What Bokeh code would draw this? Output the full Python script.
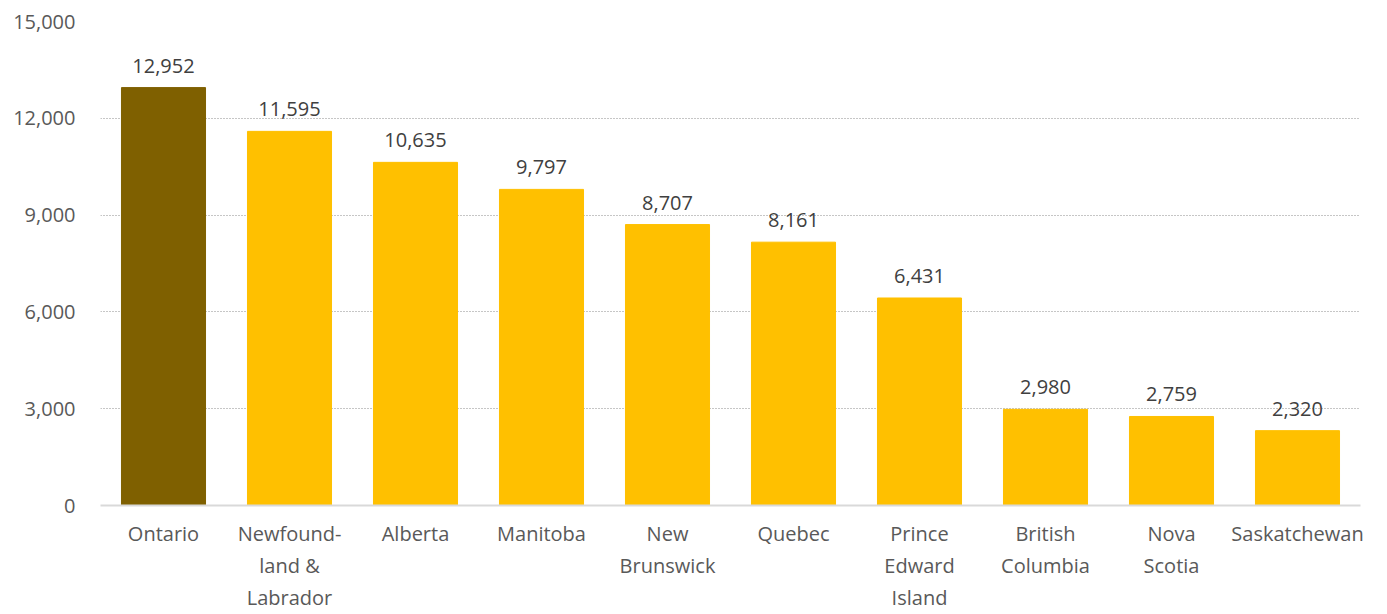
from bokeh.plotting import figure
from bokeh.models import ColumnDataSource, NumeralTickFormatter, FixedTicker
from bokeh.embed import file_html
from bokeh.resources import INLINE
from bokeh.core.properties import value

provinces = ["Ontario", "Newfound-\nland &\nLabrador", "Alberta", "Manitoba", "New\nBrunswick",
             "Quebec", "Prince\nEdward\nIsland", "British\nColumbia", "Nova\nScotia", "Saskatchewan"]
values = [12952, 11595, 10635, 9797, 8707, 8161, 6431, 2980, 2759, 2320]
colors = ["#7F6000"] + ["#FFC000"] * 9
yticks = [0, 3000, 6000, 9000, 12000, 15000]

labels = [f"{v:,}" for v in values]
src = ColumnDataSource(dict(x=provinces, top=values, color=colors, label=labels))

FONT = "Open Sans"
p = figure(x_range=provinces, y_range=(0, 15000), width=1379, height=614,
           output_backend="svg", toolbar_location=None,
           min_border_left=100, min_border_right=19, min_border_top=21, min_border_bottom=100)
p.outline_line_color = None
p.background_fill_color = "white"
p.border_fill_color = "white"

p.vbar(x="x", top="top", width=0.667, color="color", source=src)
p.text(x="x", y="top", text="label", source=src, text_align="center", text_baseline="bottom",
       y_offset=-15, text_font=value(FONT), text_font_size="20px", text_color="#404040")

p.yaxis.ticker = FixedTicker(ticks=yticks)
p.yaxis.formatter = NumeralTickFormatter(format="0,0")
for ax in (p.xaxis, p.yaxis):
    ax.major_label_text_font = FONT
    ax.major_label_text_font_size = "20px"
    ax.major_label_text_color = "#595959"
    ax.major_tick_line_color = None
    ax.minor_tick_line_color = None
p.yaxis.axis_line_color = None
p.yaxis.major_label_standoff = 19
p.xaxis.axis_line_color = "#D9D9D9"
p.xaxis.axis_line_width = 2
p.xaxis.major_label_standoff = 8

p.xgrid.grid_line_color = None
p.ygrid.grid_line_color = "#8C8C8C"
p.ygrid.grid_line_dash = "1 2"
p.ygrid.grid_line_width = 1

open("out.html", "w").write(file_html(p, INLINE))
